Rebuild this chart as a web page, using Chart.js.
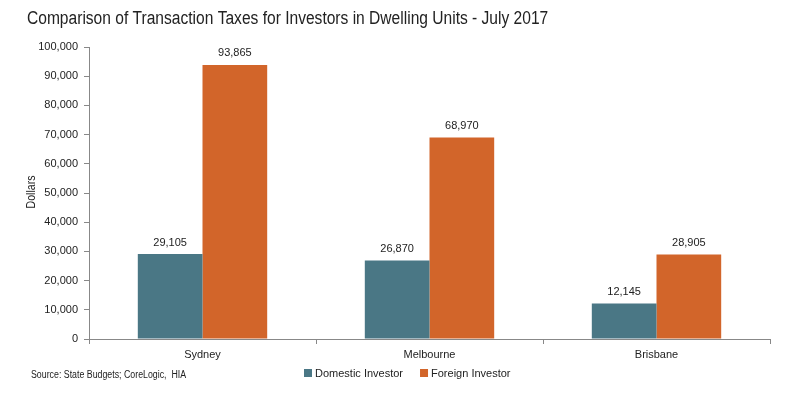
<!DOCTYPE html>
<html>
<head>
<meta charset="utf-8">
<script src="https://cdn.jsdelivr.net/npm/chart.js@4"></script>
<style>
  html, body { margin: 0; padding: 0; background: #fff; }
  #wrap { width: 785px; height: 398px; position: relative; }
</style>
</head>
<body>
<div id="wrap"><canvas id="chart"></canvas></div>
<script>
const CITIES = ['Sydney', 'Melbourne', 'Brisbane'];
const DOMESTIC = [29105, 26870, 12145];
const FOREIGN = [93865, 68970, 28905];
const Y_TICKS = [0, 10000, 20000, 30000, 40000, 50000, 60000, 70000, 80000, 90000, 100000];

const TITLE = 'Comparison of Transaction Taxes for Investors in Dwelling Units - July 2017';
const SOURCE = 'Source: State Budgets; CoreLogic,  HIA';
const TEAL = '#4a7785';
const ORANGE = '#d2652a';
const SANS = '"Liberation Sans", Arial, sans-serif';

const fmt = v => v.toLocaleString('en-US');

// no narrow font installed, so squeeze text horizontally
function narrowText(c, text, x, y, squeeze) {
  c.save();
  c.translate(x, y);
  c.scale(squeeze, 1);
  c.fillText(text, 0, 0);
  c.restore();
}

// title, bar value labels, source note and legend
const extras = {
  id: 'extras',
  afterDatasetsDraw(chart) {
    const c = chart.ctx;
    c.save();
    c.fillStyle = '#222';
    c.font = '11px ' + SANS;
    c.textAlign = 'center';
    c.textBaseline = 'bottom';
    chart.data.datasets.forEach((ds, i) => {
      chart.getDatasetMeta(i).data.forEach((bar, j) => {
        c.fillText(fmt(ds.data[j]), bar.x, bar.y - 6);
      });
    });
    c.restore();
  },
  afterDraw(chart) {
    const c = chart.ctx;
    c.save();
    c.fillStyle = '#222';
    c.textBaseline = 'alphabetic';
    c.textAlign = 'left';
    c.font = '18px ' + SANS;
    narrowText(c, TITLE, 27, 24, 0.865);

    c.font = '10px ' + SANS;
    narrowText(c, SOURCE, 31, 378, 0.88);

    // y axis title
    c.font = '12px ' + SANS;
    c.translate(35, 192);
    c.rotate(-Math.PI / 2);
    c.textAlign = 'center';
    narrowText(c, 'Dollars', 0, 0, 0.88);
    c.restore();

    // legend
    c.save();
    c.font = '11px ' + SANS;
    c.textBaseline = 'middle';
    let x = 304;
    chart.data.datasets.forEach(ds => {
      c.fillStyle = ds.backgroundColor;
      c.fillRect(x, 369, 8, 8);
      c.fillStyle = '#222';
      c.fillText(ds.label, x + 11, 374);
      x += 11 + c.measureText(ds.label).width + 17;
    });
    c.restore();
  }
};

new Chart(document.getElementById('chart'), {
  type: 'bar',
  data: {
    labels: CITIES,
    datasets: [
      { label: 'Domestic Investor', data: DOMESTIC, backgroundColor: TEAL },
      { label: 'Foreign Investor', data: FOREIGN, backgroundColor: ORANGE }
    ]
  },
  options: {
    responsive: true,
    maintainAspectRatio: false,
    animation: false,
    layout: { padding: { top: 47, right: 15, bottom: 0, left: 0 } },
    plugins: { legend: { display: false }, title: { display: false }, tooltip: { enabled: false } },
    datasets: { bar: { categoryPercentage: 0.57, barPercentage: 1 } },
    scales: {
      x: {
        offset: true,
        grid: { offset: true, drawOnChartArea: false, tickLength: 5, color: '#888' },
        border: { color: '#888' },
        ticks: { color: '#222', font: { family: SANS, size: 11 }, padding: 4 },
        afterFit(s) { s.height = 59; }
      },
      y: {
        min: 0,
        max: 100000,
        afterBuildTicks(s) { s.ticks = Y_TICKS.map(v => ({ value: v })); },
        grid: { drawOnChartArea: false, tickLength: 5, color: '#888' },
        border: { color: '#888' },
        ticks: { color: '#222', font: { family: SANS, size: 11 }, padding: 6, callback: v => fmt(v) },
        afterFit(s) { s.width = 89; }
      }
    }
  },
  plugins: [extras]
});
</script>
</body>
</html>
